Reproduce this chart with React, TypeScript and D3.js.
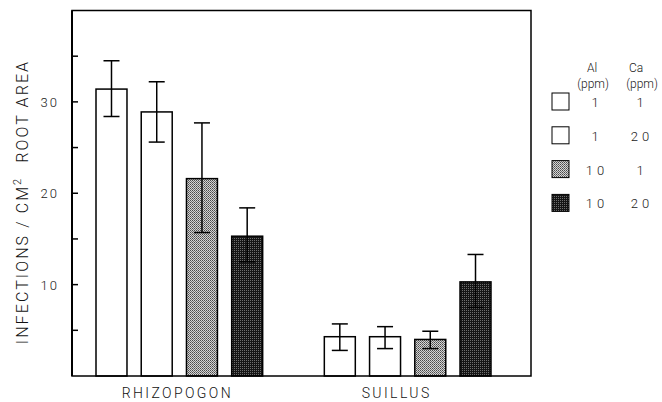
import { useEffect, useRef } from "react";
import * as d3 from "d3";

// groups and treatments (Al ppm / Ca ppm)
const groups = ["RHIZOPOGON", "SUILLUS"];
const treatments = ["Al1Ca1", "Al1Ca20", "Al10Ca1", "Al10Ca20"];
const alLabels = ["1", "1", "10", "10"];
const caLabels = ["1", "20", "1", "20"];

// mean infections / cm2 root area, and error bar low / high
const rhizoMeans = [31.4, 28.9, 21.6, 15.3];
const rhizoLow = [28.4, 25.6, 15.7, 12.5];
const rhizoHigh = [34.5, 32.2, 27.7, 18.4];
const suillusMeans = [4.3, 4.3, 4.0, 10.3];
const suillusLow = [2.8, 3.0, 3.0, 7.5];
const suillusHigh = [5.7, 5.4, 4.9, 13.3];

const majorTicks = [10, 20, 30];
const minorTicks = [5, 15, 25, 35];

const App = () => {
  const ref = useRef<SVGSVGElement | null>(null);

  useEffect(() => {
    const svg = d3.select(ref.current);
    svg.selectAll("*").remove();

    const font = "Roboto, 'Liberation Sans', Arial, sans-serif";
    const left = 72;
    const right = 531;
    const top = 10.5;
    const bottom = 376;

    // stipple patterns
    const defs = svg.append("defs");
    const light = defs
      .append("pattern")
      .attr("id", "light")
      .attr("width", 2)
      .attr("height", 2)
      .attr("patternUnits", "userSpaceOnUse");
    light.append("rect").attr("width", 2).attr("height", 2).attr("fill", "#d4d4d4");
    light.append("rect").attr("width", 1).attr("height", 1).attr("fill", "#4a4a4a");
    light.append("rect").attr("x", 1).attr("y", 1).attr("width", 1).attr("height", 1).attr("fill", "#707070");

    const dark = defs
      .append("pattern")
      .attr("id", "dark")
      .attr("width", 2)
      .attr("height", 2)
      .attr("patternUnits", "userSpaceOnUse");
    dark.append("rect").attr("width", 2).attr("height", 2).attr("fill", "#151515");
    dark.append("rect").attr("width", 1).attr("height", 1).attr("fill", "#6e6e6e");

    const fills = ["#fff", "#fff", "url(#light)", "url(#dark)"];

    const x0 = d3.scaleBand().domain(groups).range([96, 491]).paddingInner(0.27).paddingOuter(0);
    const x1 = d3
      .scaleBand()
      .domain(treatments)
      .range([0, x0.bandwidth()])
      .paddingInner(0.315)
      .paddingOuter(0);
    const y = d3.scaleLinear().domain([0, 40]).range([bottom, top]);

    const data = [
      { group: groups[0], means: rhizoMeans, low: rhizoLow, high: rhizoHigh },
      { group: groups[1], means: suillusMeans, low: suillusLow, high: suillusHigh },
    ];

    // bars
    data.forEach((g) => {
      const gx = x0(g.group) as number;
      treatments.forEach((t, i) => {
        const bx = gx + (x1(t) as number);
        svg
          .append("rect")
          .attr("x", bx)
          .attr("y", y(g.means[i]))
          .attr("width", x1.bandwidth())
          .attr("height", y(0) - y(g.means[i]))
          .attr("fill", fills[i])
          .attr("stroke", "#000")
          .attr("stroke-width", 1.5);

        const cx = bx + x1.bandwidth() / 2;
        const err = svg.append("g").attr("stroke", "#000").attr("stroke-width", 1.5);
        err.append("line").attr("x1", cx).attr("x2", cx).attr("y1", y(g.low[i])).attr("y2", y(g.high[i]));
        [g.low[i], g.high[i]].forEach((v) => {
          err.append("line").attr("x1", cx - 8).attr("x2", cx + 8).attr("y1", y(v)).attr("y2", y(v));
        });
      });

      svg
        .append("text")
        .attr("x", gx + x0.bandwidth() / 2 - (g.group === "SUILLUS" ? 11 : 2))
        .attr("y", 398)
        .attr("text-anchor", "middle")
        .attr("font-family", font)
        .attr("font-size", 14)
        .attr("font-weight", 300)
        .attr("letter-spacing", 2.4)
        .attr("fill", "#111")
        .text(g.group);
    });

    // frame
    svg
      .append("rect")
      .attr("x", left)
      .attr("y", top)
      .attr("width", right - left)
      .attr("height", bottom - top)
      .attr("fill", "none")
      .attr("stroke", "#000")
      .attr("stroke-width", 1.5);
    svg
      .append("line")
      .attr("x1", left)
      .attr("x2", left)
      .attr("y1", top)
      .attr("y2", bottom)
      .attr("stroke", "#000")
      .attr("stroke-width", 2);

    // ticks inside the frame
    majorTicks.concat(minorTicks).forEach((v) => {
      svg
        .append("line")
        .attr("x1", left)
        .attr("x2", left + 6)
        .attr("y1", y(v))
        .attr("y2", y(v))
        .attr("stroke", "#000")
        .attr("stroke-width", 1.5);
    });
    majorTicks.forEach((v) => {
      svg
        .append("text")
        .attr("x", 59)
        .attr("y", y(v) + 5)
        .attr("text-anchor", "end")
        .attr("font-family", font)
        .attr("font-size", 13)
        .attr("font-weight", 300)
        .attr("letter-spacing", 2)
        .attr("fill", "#222")
        .text(v);
    });

    // y axis label
    const yl = svg
      .append("text")
      .attr("transform", "translate(28,202) rotate(-90)")
      .attr("text-anchor", "middle")
      .attr("font-family", font)
      .attr("font-size", 16)
      .attr("font-weight", 300)
      .attr("letter-spacing", 2.1)
      .attr("fill", "#111");
    yl.append("tspan").text("INFECTIONS / CM");
    yl.append("tspan").attr("dy", -7).attr("font-size", 11).text("2");
    yl.append("tspan").attr("dy", 7).attr("dx", 14).text("ROOT AREA");

    // legend
    const alX = 595;
    const caX = 640;
    const lg = svg.append("g").attr("font-family", font).attr("font-weight", 300).attr("fill", "#222");
    lg.append("text").attr("x", alX - 3).attr("y", 72).attr("text-anchor", "middle").attr("font-size", 12).text("Al");
    lg.append("text").attr("x", alX - 2).attr("y", 88).attr("text-anchor", "middle").attr("font-size", 12).text("(ppm)");
    lg.append("text").attr("x", caX - 4).attr("y", 72).attr("text-anchor", "middle").attr("font-size", 12).text("Ca");
    lg.append("text").attr("x", caX + 2).attr("y", 88).attr("text-anchor", "middle").attr("font-size", 12).text("(ppm)");

    treatments.forEach((t, i) => {
      const ly = 93 + i * 33.8;
      lg.append("rect")
        .attr("x", 552)
        .attr("y", ly)
        .attr("width", 17)
        .attr("height", 17)
        .attr("fill", fills[i])
        .attr("stroke", "#000")
        .attr("stroke-width", 1);
      lg.append("text")
        .attr("x", alX + 2)
        .attr("y", ly + 14)
        .attr("text-anchor", "middle")
        .attr("font-size", 13)
        .attr("letter-spacing", 4)
        .text(alLabels[i]);
      lg.append("text")
        .attr("x", caX + 2)
        .attr("y", ly + 14)
        .attr("text-anchor", "middle")
        .attr("font-size", 13)
        .attr("letter-spacing", 4)
        .text(caLabels[i]);
    });
  }, []);

  return (
    <div style={{ position: "absolute", left: 0, top: 0 }}>
      <svg ref={ref} width={662} height={402} style={{ display: "block", background: "#fff" }} />
    </div>
  );
};

export default App;
